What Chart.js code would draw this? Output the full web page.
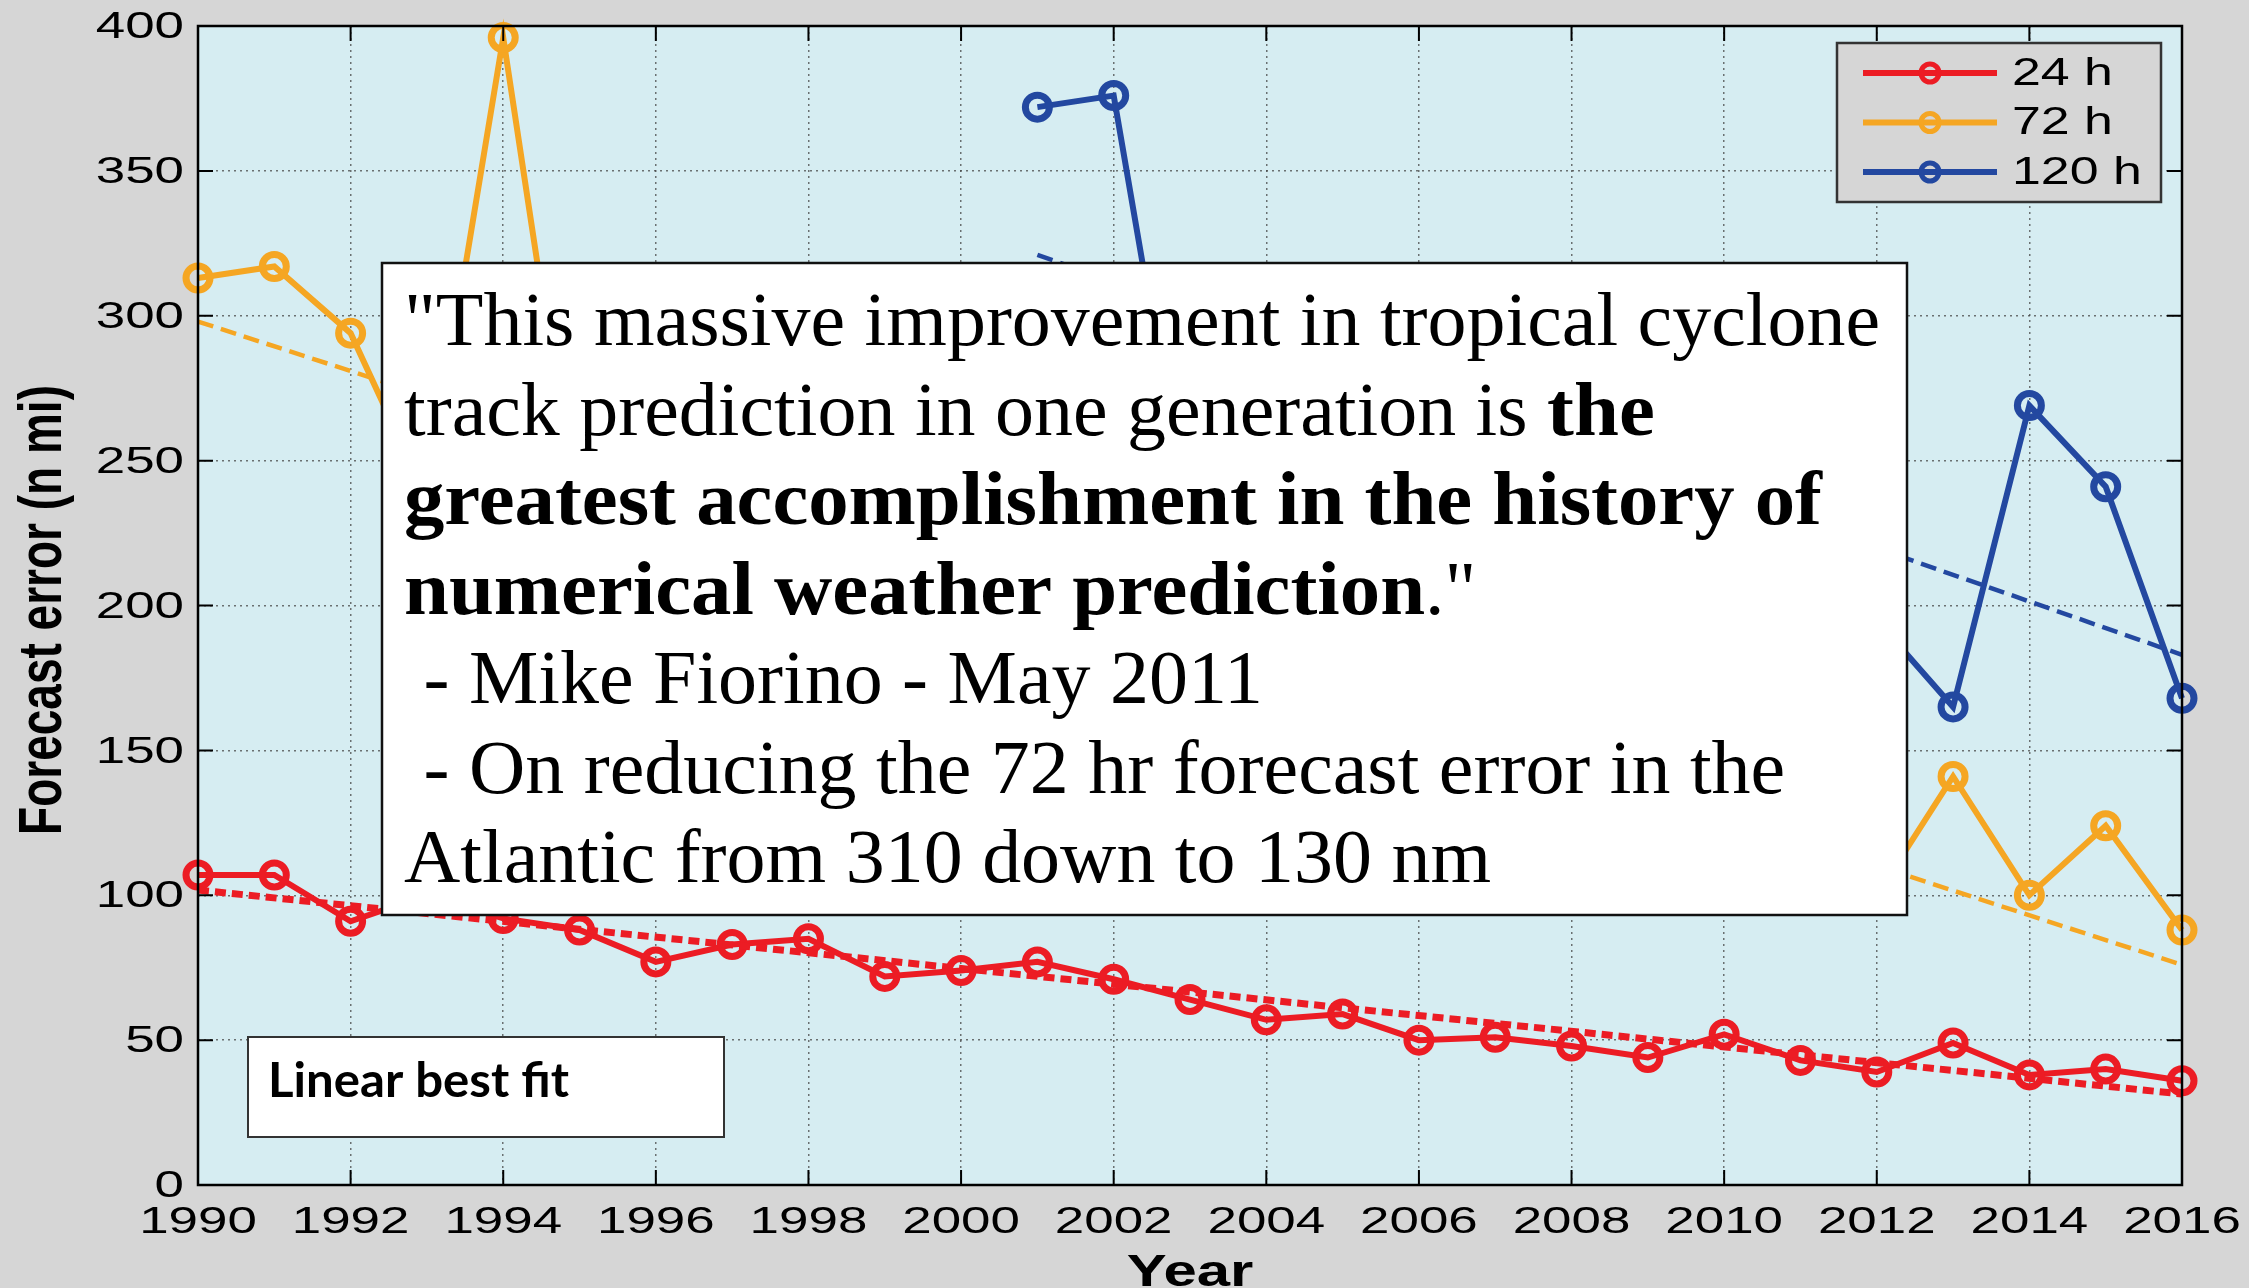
<!DOCTYPE html>
<html>
<head>
<meta charset="utf-8">
<script src="https://cdn.jsdelivr.net/npm/chart.js@4.4.1/dist/chart.umd.min.js"></script>
<style>
  html, body { margin: 0; padding: 0; background: #d6d6d6; }
  canvas { display: block; }
</style>
</head>
<body>
<canvas id="errorChart" width="2249" height="1288"></canvas>
<script>
const years = [1990, 1991, 1992, 1993, 1994, 1995, 1996, 1997, 1998, 1999,
               2000, 2001, 2002, 2003, 2004, 2005, 2006, 2007, 2008, 2009,
               2010, 2011, 2012, 2013, 2014, 2015, 2016];
const err24 = [107, 107, 91, 100, 92, 88, 77, 83, 85, 72,
               74, 77, 71, 64, 57, 59, 50, 51, 48, 44,
               52, 43, 39, 49, 38, 40, 36];
const err72 = [313, 317, 294, 237, 396, 222, 230, 235, 205, 191,
               200, 215, 199, 167, 150, 146, 143, 150, 128, 120,
               126, 110, 100, 141, 100, 124, 88];
const years120 = [2001, 2002, 2003, 2004, 2005, 2006, 2007, 2008,
                  2009, 2010, 2011, 2012, 2013, 2014, 2015, 2016];
const err120 = [372, 376, 223, 275, 295, 270, 268, 250,
                228, 215, 222, 195, 165, 269, 241, 168];

// linear best fit end points
const fitYears = [1990, 2016];
const fit24 = [101.8, 31.4];
const fit72 = [298, 76];
const fitYears120 = [2001, 2016];
const fit120 = [321, 183];

const xTicks = [1990, 1992, 1994, 1996, 1998, 2000, 2002, 2004, 2006, 2008, 2010, 2012, 2014, 2016];
const yTicks = [0, 50, 100, 150, 200, 250, 300, 350, 400];

const seriesLabels = ["24 h", "72 h", "120 h"];
const seriesColors = ["#ec1c24", "#f5a623", "#2348a0"];

const quoteLines = [
  [["n", "\"This massive improvement in tropical cyclone"]],
  [["n", "track prediction in one generation is "], ["b", "the"]],
  [["b", "greatest accomplishment in the history of"]],
  [["b", "numerical weather prediction"], ["n", ".\""]],
  [["n", " - Mike Fiorino - May 2011"]],
  [["n", " - On reducing the 72 hr forecast error in the"]],
  [["n", "Atlantic from 310 down to 130 nm"]]
];

function points(xs, ys) {
  return xs.map((x, i) => ({ x: x, y: ys[i] }));
}

function seriesSet(i, xs, ys) {
  return {
    label: seriesLabels[i],
    data: points(xs, ys),
    borderColor: seriesColors[i],
    borderWidth: 6,
    pointRadius: 12,
    pointHoverRadius: 12,
    pointBorderWidth: 7,
    pointBorderColor: seriesColors[i],
    pointBackgroundColor: "rgba(0,0,0,0)",
    tension: 0,
    clip: false,
    order: 2
  };
}

function fitSet(i, xs, ys, width, dash) {
  return {
    label: seriesLabels[i] + " fit",
    data: points(xs, ys),
    borderColor: seriesColors[i],
    borderWidth: width,
    borderDash: dash,
    pointRadius: 0,
    clip: false,
    order: 1
  };
}

// text stretched sideways like the original figure
function stretchText(ctx, str, x, y, font, sx, align, baseline) {
  ctx.save();
  ctx.font = font;
  ctx.textAlign = align;
  ctx.textBaseline = baseline;
  ctx.translate(x, y);
  ctx.scale(sx, 1);
  ctx.fillText(str, 0, 0);
  ctx.restore();
}

const paperPlugin = {
  id: "paper",
  beforeDraw(chart) {
    const { ctx, chartArea: a } = chart;
    ctx.save();
    ctx.fillStyle = "#d6d6d6";
    ctx.fillRect(0, 0, chart.width, chart.height);
    ctx.fillStyle = "#d6edf2";
    ctx.fillRect(a.left, a.top, a.right - a.left, a.bottom - a.top);
    ctx.restore();
  },
  afterDatasetsDraw(chart) {
    const { ctx, chartArea: a } = chart;
    const xs = chart.scales.x, ys = chart.scales.y;
    ctx.save();
    ctx.strokeStyle = "#000";
    ctx.lineWidth = 2.5;
    ctx.strokeRect(a.left, a.top, a.right - a.left, a.bottom - a.top);

    ctx.lineWidth = 2;
    ctx.beginPath();
    xs.ticks.forEach(t => {
      const px = xs.getPixelForValue(t.value);
      ctx.moveTo(px, a.bottom); ctx.lineTo(px, a.bottom - 15);
      ctx.moveTo(px, a.top); ctx.lineTo(px, a.top + 15);
    });
    ys.ticks.forEach(t => {
      const py = ys.getPixelForValue(t.value);
      ctx.moveTo(a.left, py); ctx.lineTo(a.left + 15, py);
      ctx.moveTo(a.right, py); ctx.lineTo(a.right - 15, py);
    });
    ctx.stroke();

    ctx.fillStyle = "#000";
    xs.ticks.forEach(t => {
      stretchText(ctx, String(t.value), xs.getPixelForValue(t.value), 1233,
        "37px 'Liberation Sans', Arial, sans-serif", 1.43, "center", "alphabetic");
    });
    ys.ticks.forEach(t => {
      stretchText(ctx, String(t.value), 184, ys.getPixelForValue(t.value) + 2,
        "37px 'Liberation Sans', Arial, sans-serif", 1.43, "right", "middle");
    });

    stretchText(ctx, "Year", (a.left + a.right) / 2, 1286,
      "bold 44px 'Liberation Sans', Arial, sans-serif", 1.36, "center", "alphabetic");

    ctx.save();
    ctx.translate(61, 610);
    ctx.rotate(-Math.PI / 2);
    ctx.scale(1, 1.336);
    ctx.font = "bold 46px 'Liberation Sans', Arial, sans-serif";
    ctx.textAlign = "center";
    ctx.textBaseline = "alphabetic";
    ctx.fillText("Forecast error (n mi)", 0, 0);
    ctx.restore();
    ctx.restore();
  },
  afterDraw(chart) {
    const ctx = chart.ctx;
    ctx.save();

    // quote box
    ctx.fillStyle = "#fff";
    ctx.fillRect(382, 263, 1525, 652);
    ctx.strokeStyle = "#111";
    ctx.lineWidth = 2.5;
    ctx.strokeRect(382, 263, 1525, 652);

    const fontN = "76px 'Liberation Serif', 'DejaVu Serif', serif";
    const fontB = "bold 76px 'Liberation Serif', 'DejaVu Serif', serif";
    ctx.font = fontN;
    const sxN = 1476 / ctx.measureText(quoteLines[0][0][1]).width;
    ctx.font = fontB;
    const sxB = 1418 / ctx.measureText(quoteLines[2][0][1]).width;
    ctx.fillStyle = "#000";
    quoteLines.forEach((line, i) => {
      let x = 404;
      const y = 345 + i * 89.5;
      line.forEach(run => {
        const bold = run[0] === "b";
        const f = bold ? fontB : fontN;
        const sx = bold ? sxB : sxN;
        stretchText(ctx, run[1], x, y, f, sx, "left", "alphabetic");
        ctx.font = f;
        x += ctx.measureText(run[1]).width * sx;
      });
    });

    // linear best fit label
    ctx.fillStyle = "#fff";
    ctx.fillRect(248, 1037, 476, 100);
    ctx.strokeStyle = "#333";
    ctx.lineWidth = 2;
    ctx.strokeRect(248, 1037, 476, 100);
    ctx.fillStyle = "#000";
    const fitFont = "bold 47px Lato, 'Open Sans', sans-serif";
    ctx.font = fitFont;
    const fsx = 301 / ctx.measureText("Linear best fit").width;
    stretchText(ctx, "Linear best fit", 268, 1097, fitFont, fsx, "left", "alphabetic");

    // legend
    ctx.fillStyle = "#d6d6d6";
    ctx.fillRect(1837, 43, 324, 159);
    ctx.strokeStyle = "#333";
    ctx.lineWidth = 2.5;
    ctx.strokeRect(1837, 43, 324, 159);
    chart.data.datasets.slice(0, 3).forEach((ds, i) => {
      const y = 73 + i * 49.5;
      ctx.strokeStyle = ds.borderColor;
      ctx.lineWidth = 6;
      ctx.beginPath();
      ctx.moveTo(1863, y); ctx.lineTo(1997, y);
      ctx.stroke();
      ctx.lineWidth = 5;
      ctx.beginPath();
      ctx.arc(1930, y, 9, 0, Math.PI * 2);
      ctx.stroke();
      ctx.fillStyle = "#000";
      stretchText(ctx, ds.label, 2012, y + 1,
        "39px 'Liberation Sans', Arial, sans-serif", 1.33, "left", "middle");
    });
    ctx.restore();
  }
};

new Chart(document.getElementById("errorChart"), {
  type: "line",
  data: {
    datasets: [
      seriesSet(0, years, err24),
      seriesSet(1, years, err72),
      seriesSet(2, years120, err120),
      fitSet(0, fitYears, fit24, 7, [11, 6]),
      fitSet(1, fitYears, fit72, 4.5, [16, 8]),
      fitSet(2, fitYears120, fit120, 4.5, [16, 8])
    ]
  },
  options: {
    responsive: false,
    animation: false,
    devicePixelRatio: 1,
    layout: { padding: { top: 26, right: 67, left: 0, bottom: 0 } },
    plugins: {
      legend: { display: false },
      tooltip: { enabled: false }
    },
    scales: {
      x: {
        type: "linear",
        min: 1990,
        max: 2016,
        afterBuildTicks: s => { s.ticks = xTicks.map(v => ({ value: v })); },
        afterFit: s => { s.height = 103; },
        ticks: { display: false },
        grid: { color: "rgba(70,70,70,0.75)", lineWidth: 1.5, drawTicks: false },
        border: { display: false, dash: [2, 4] }
      },
      y: {
        min: 0,
        max: 400,
        afterBuildTicks: s => { s.ticks = yTicks.map(v => ({ value: v })); },
        afterFit: s => { s.width = 198; },
        ticks: { display: false },
        grid: { color: "rgba(70,70,70,0.75)", lineWidth: 1.5, drawTicks: false },
        border: { display: false, dash: [2, 4] }
      }
    }
  },
  plugins: [paperPlugin]
});
</script>
</body>
</html>
